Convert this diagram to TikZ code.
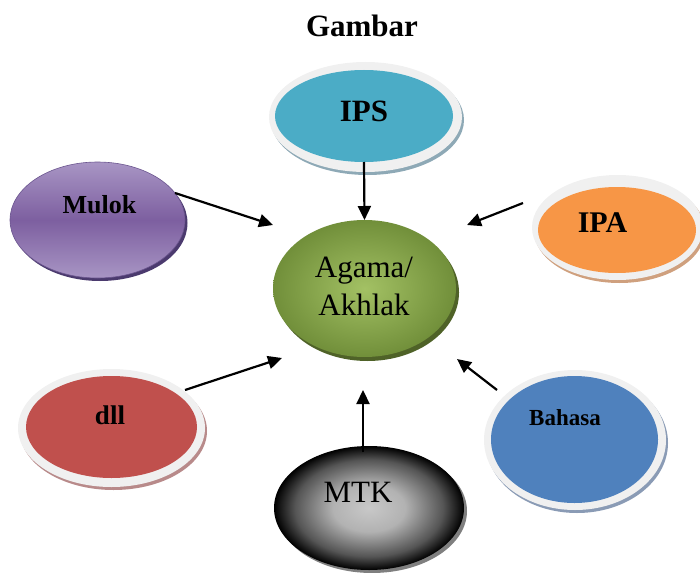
\documentclass[tikz,border=0pt]{standalone}
\usepackage{fontspec}
\setmainfont{Liberation Serif}
\usetikzlibrary{shapes.geometric,arrows.meta}
\definecolor{rim}{HTML}{F0F0F0}
\definecolor{ipsc}{HTML}{4BACC6}
\definecolor{ipssh}{HTML}{8EA9B6}
\definecolor{ipac}{HTML}{F79646}
\definecolor{ipash}{HTML}{CFA07E}
\definecolor{dllc}{HTML}{C0504D}
\definecolor{dllsh}{HTML}{B88A8A}
\definecolor{bahc}{HTML}{4F81BD}
\definecolor{bahsh}{HTML}{8A9BB5}
\definecolor{mulokLight}{HTML}{A895C4}
\definecolor{mulokDark}{HTML}{7D5FA0}
\definecolor{mulokEdge}{HTML}{6B558F}
\definecolor{muloksh}{HTML}{4B3A6E}
\definecolor{agamaIn}{HTML}{A3C164}
\definecolor{agamaOut}{HTML}{718F3A}
\definecolor{agamash}{HTML}{4F6228}
\definecolor{mtkIn}{HTML}{C8C8C8}
\definecolor{mtkMid}{HTML}{B2B2B2}
\definecolor{mtkDark}{HTML}{555555}
\definecolor{mtksh}{HTML}{7F7F7F}
\pgfdeclareradialshading{agamashade}{\pgfpoint{0bp}{0bp}}{color(0bp)=(agamaIn); color(25bp)=(agamaOut); color(50bp)=(agamaOut)}
\pgfdeclareradialshading{mtkshade}{\pgfpoint{0bp}{0bp}}{color(0bp)=(mtkIn); color(9.5bp)=(mtkMid); color(19.5bp)=(mtkDark); color(25bp)=(black); color(50bp)=(black)}
\begin{document}
\begin{tikzpicture}[x=1pt,y=-1pt,
  boldlbl/.style={anchor=base, inner sep=0pt, font=\fontsize{#1}{#1}\selectfont\bfseries},
  plainlbl/.style={anchor=base, inner sep=0pt, font=\fontsize{#1}{#1}\selectfont},
  oval/.style={ellipse, inner sep=0pt, outer sep=0pt},
  link/.style={line width=2.2pt, -{Triangle[length=14pt,width=13pt]}}]
\useasboundingbox (0,0) rectangle (700,572);

% title
\node[boldlbl=31] (title) at (362,37) {Gambar};

% IPS
\fill[ipssh] (367.5,120) ellipse [x radius=96.5pt, y radius=55pt];
\fill[rim] (365.5,117) ellipse [x radius=96.5pt, y radius=55pt];
\node[oval, fill=ipsc, minimum width=178pt, minimum height=92pt] (ips) at (364,116) {};
\node[boldlbl=31] (ipsT) at (364,121.5) {IPS};

% IPA
\fill[ipash] (619.5,230.5) ellipse [x radius=85.5pt, y radius=52.5pt];
\fill[rim] (617.5,227.5) ellipse [x radius=85.5pt, y radius=52.5pt];
\node[oval, fill=ipac, minimum width=158pt, minimum height=86pt] (ipa) at (617,230) {};
\node[boldlbl=30] (ipaT) at (602.5,232.5) {IPA};

% Mulok
\fill[muloksh] (100,223) ellipse [x radius=87.5pt, y radius=58pt];
\node[oval, draw=mulokEdge, line width=0.6pt, top color=mulokLight, bottom color=mulokLight, middle color=mulokDark, minimum width=175pt, minimum height=116pt] (mulok) at (97.5,220) {};
\node[boldlbl=26] (mulokT) at (99.5,213) {Mulok};

% Agama / Akhlak
\fill[agamash] (367.5,292.5) ellipse [x radius=91.5pt, y radius=68.5pt];
\node[oval, shading=agamashade, minimum width=183pt, minimum height=137pt] (agama) at (364.5,288.5) {};
\node[plainlbl=31] (agamaT1) at (364,277) {Agama/};
\node[plainlbl=31] (agamaT2) at (364,315) {Akhlak};

% dll
\fill[dllsh] (113.5,431) ellipse [x radius=93.5pt, y radius=59pt];
\fill[rim] (111.5,428) ellipse [x radius=93.5pt, y radius=59pt];
\node[oval, fill=dllc, minimum width=171pt, minimum height=102pt] (dll) at (111.5,427) {};
\node[boldlbl=27] (dllT) at (110,424) {dll};

% Bahasa
\fill[bahsh] (577,443) ellipse [x radius=91pt, y radius=70pt];
\fill[rim] (575,440) ellipse [x radius=91pt, y radius=70pt];
\node[oval, fill=bahc, minimum width=167pt, minimum height=127pt] (bahasa) at (574.5,439.5) {};
\node[boldlbl=23] (bahasaT) at (565,425) {Bahasa};

% MTK
\fill[mtksh] (372,511) ellipse [x radius=95pt, y radius=62pt];
\node[oval, shading=mtkshade, minimum width=190pt, minimum height=124pt] (mtk) at (369,508) {};
\node[plainlbl=31] (mtkT) at (358,502.5) {MTK};

% connector ends
\coordinate (mulokA) at (175,193);
\coordinate (mulokB) at (273,225);
\coordinate (ipaA) at (523,203);
\coordinate (ipaB) at (467,225);
\coordinate (dllA) at (185,390);
\coordinate (dllB) at (282,358);
\coordinate (mtkA) at (363,452);
\coordinate (mtkB) at (363,390);
\coordinate (bahasaA) at (497,390);
\coordinate (bahasaB) at (457,359);

% arrows
\draw[link] (ips.south) -- (agama.north);
\draw[link] (mulokA) -- (mulokB);
\draw[link] (ipaA) -- (ipaB);
\draw[link] (dllA) -- (dllB);
\draw[link] (mtkA) -- (mtkB);
\draw[link] (bahasaA) -- (bahasaB);
\end{tikzpicture}
\end{document}
